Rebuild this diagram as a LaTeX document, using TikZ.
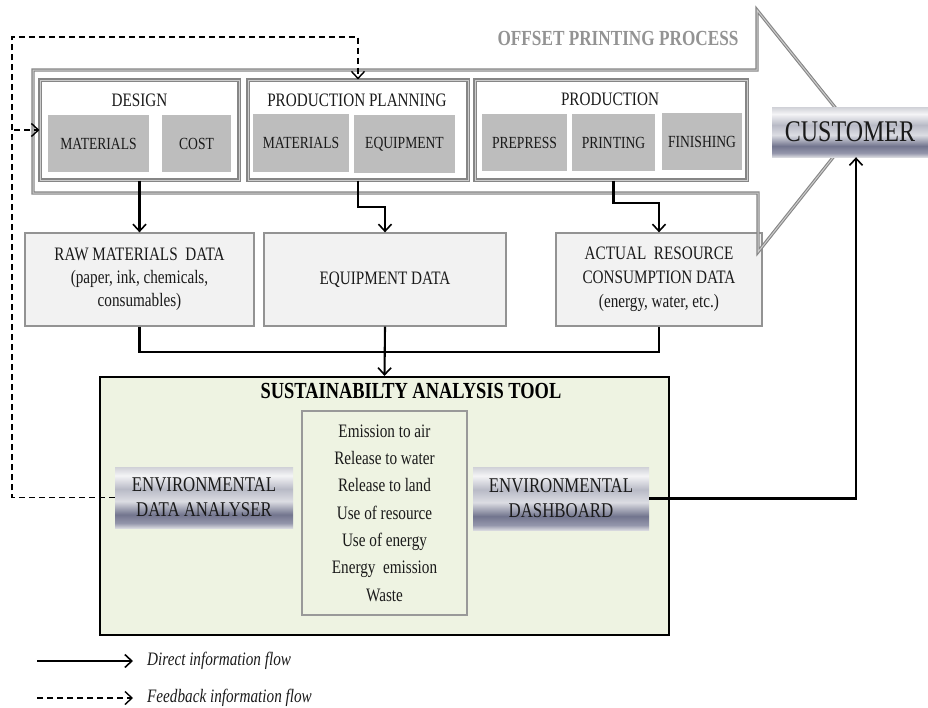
\documentclass[tikz,border=0pt]{standalone}
\usepackage{fontspec}
\setmainfont{Liberation Serif}[FakeStretch=0.8]
\usetikzlibrary{arrows.meta,calc}
\definecolor{satgreen}{HTML}{EEF3E2}
\definecolor{boxgray}{HTML}{F2F2F2}
\definecolor{subgray}{HTML}{BDBDBD}
\definecolor{txt}{HTML}{1A1A1A}
\definecolor{mtop}{HTML}{D0D1D7}
\definecolor{mbright}{HTML}{F4F4F6}
\definecolor{mmid}{HTML}{B8BAC6}
\definecolor{mlight}{HTML}{DCDDE3}
\definecolor{mdark}{HTML}{72758E}
\definecolor{mdark2}{HTML}{9496AB}
\definecolor{mbot}{HTML}{D6D7DD}
\pgfdeclareverticalshading{metal}{100bp}{color(0bp)=(mbot); color(25bp)=(mbot); color(29bp)=(mdark2); color(36bp)=(mdark); color(47bp)=(mlight); color(57bp)=(mmid); color(68bp)=(mbright); color(75bp)=(mtop); color(100bp)=(mtop)}
\tikzset{
  outer/.style={draw=gray!95, line width=1.1pt, double=gray!40, double distance=1pt},
  grp/.style={outer, fill=white, inner sep=0pt},
  ttl/.style={text=txt, font=\fontsize{19}{23}\selectfont, inner sep=0pt},
  sub/.style={fill=subgray, draw=none, text=txt, inner sep=0pt, font=\fontsize{17}{20}\selectfont},
  data/.style={fill=boxgray, draw=gray!85, line width=1.3pt, text=txt, inner sep=0pt, align=center, font=\fontsize{19}{23}\selectfont},
  metalbox/.style={shading=metal, draw=none, text=txt, inner sep=0pt, align=center, font=\fontsize{21}{25}\selectfont},
  conn/.style={draw=black, line width=2.1pt},
  arr/.style={conn, -{Straight Barb[length=7pt,width=13pt,line width=1.6pt]}},
  fb/.style={draw=black, line width=1.4pt, dash pattern=on 6pt off 4pt},
  fbarr/.style={fb, -{Straight Barb[length=7pt,width=13pt]}}
}
\begin{document}
\begin{tikzpicture}[x=1pt,y=-1pt]
\useasboundingbox (0,0) rectangle (928,707);

% data boxes
\node[data, minimum width=229pt, minimum height=93pt] (raw) at (139.5,279.5) {RAW MATERIALS\ \ DATA\\(paper, ink, chemicals,\\consumables)};
\node[data, minimum width=242pt, minimum height=93pt] (eqd) at (385,279.5) {EQUIPMENT DATA};
\node[data, minimum width=206pt, minimum height=93pt, font=\fontsize{19}{24}\selectfont] (act) at (659,279.5) {ACTUAL\ \ RESOURCE\\CONSUMPTION DATA\\(energy,\ water, etc.)};

% big process arrow
\draw[outer] (33,70) -- (757,70) -- (757,10) -- (854,131) -- (758,252) -- (758,193) -- (33,193) -- cycle;
\node[text=gray!85, font=\bfseries\fontsize{21.5}{25}\selectfont, inner sep=0pt] (opp) at (618,38) {OFFSET PRINTING PROCESS};

% groups
\node[grp, minimum width=199pt, minimum height=100pt] (design) at (139.5,130) {};
\node[grp, minimum width=220pt, minimum height=100pt] (pp) at (358,130) {};
\node[grp, minimum width=272pt, minimum height=100pt] (prod) at (611,130) {};
\node[ttl] (designT) at (139.5,100) {DESIGN};
\node[ttl] (ppT) at (357,100) {PRODUCTION PLANNING};
\node[ttl] (prodT) at (610,99) {PRODUCTION};
\node[sub, minimum width=101pt, minimum height=57pt] (dmat) at (98.5,143.5) {MATERIALS};
\node[sub, minimum width=69pt, minimum height=57pt] (dcost) at (196.5,143.5) {COST};
\node[sub, minimum width=96pt, minimum height=58pt] (pmat) at (301,143) {MATERIALS};
\node[sub, minimum width=101pt, minimum height=58pt] (peq) at (404.5,144) {EQUIPMENT};
\node[sub, minimum width=85pt, minimum height=57pt] (prep) at (524.5,142.5) {PREPRESS};
\node[sub, minimum width=83pt, minimum height=57pt] (prnt) at (613.5,142.5) {PRINTING};
\node[sub, minimum width=80pt, minimum height=57pt] (fin) at (702,141.5) {FINISHING};

% customer
\node[metalbox, minimum width=156pt, minimum height=50pt, font=\fontsize{30}{33}\selectfont] (cust) at (850,132) {CUSTOMER};

% sustainability tool
\node[fill=satgreen, draw=black, line width=2.2pt, minimum width=569pt, minimum height=258pt, inner sep=0pt] (sat) at (384.5,506) {};
\node[text=black, font=\bfseries\fontsize{23}{26}\selectfont, inner sep=0pt] (satT) at (411,391) {SUSTAINABILTY ANALYSIS TOOL};
\node[fill=satgreen, draw=gray!80, line width=1.3pt, minimum width=165pt, minimum height=204pt, text=txt, align=center, inner sep=0pt, font=\fontsize{19}{27.3}\selectfont] (list) at (384.5,513) {Emission to air\\Release to water\\Release to land\\Use of resource\\Use of energy\\Energy\ \ emission\\Waste};
\node[metalbox, minimum width=178pt, minimum height=61pt] (eda) at (204,497.5) {ENVIRONMENTAL\\DATA ANALYSER};
\node[metalbox, minimum width=176pt, minimum height=63pt] (edb) at (561,498.5) {ENVIRONMENTAL\\DASHBOARD};

% direct flows
\draw[arr] (design.south) -- (raw.north);
\draw[arr] (pp.south) -- ++(0,26) -| (eqd.north);
\draw[arr] (prnt.south |- prod.south) -- ++(0,22) -| (act.north);
\coordinate (j) at (385,352);
\draw[conn] (raw.south) |- (j) -| (act.south);
\draw[arr] (eqd.south) -- (sat.north);
\draw[arr] (edb.east) -| ([xshift=6pt]cust.south);

% feedback flows
\coordinate (fbL) at (12,37);
\coordinate (fbB) at (14,130);
\draw[fbarr] (eda.west) -| (fbL) -| (pp.north);
\draw[fbarr] (fbB) -- (design.west);

% legend
\coordinate (l1a) at (37,661);
\coordinate (l1b) at (133,661);
\coordinate (l2a) at (37,698);
\coordinate (l2b) at (133,698);
\draw[arr, line width=1.6pt] (l1a) -- (l1b);
\draw[fbarr] (l2a) -- (l2b);
\node[anchor=west, text=txt, font=\itshape\fontsize{19}{22}\selectfont, inner sep=0pt] (leg1) at (147,661) {Direct information flow};
\node[anchor=west, text=txt, font=\itshape\fontsize{19}{22}\selectfont, inner sep=0pt] (leg2) at (147,698) {Feedback information flow};
\end{tikzpicture}
\end{document}
